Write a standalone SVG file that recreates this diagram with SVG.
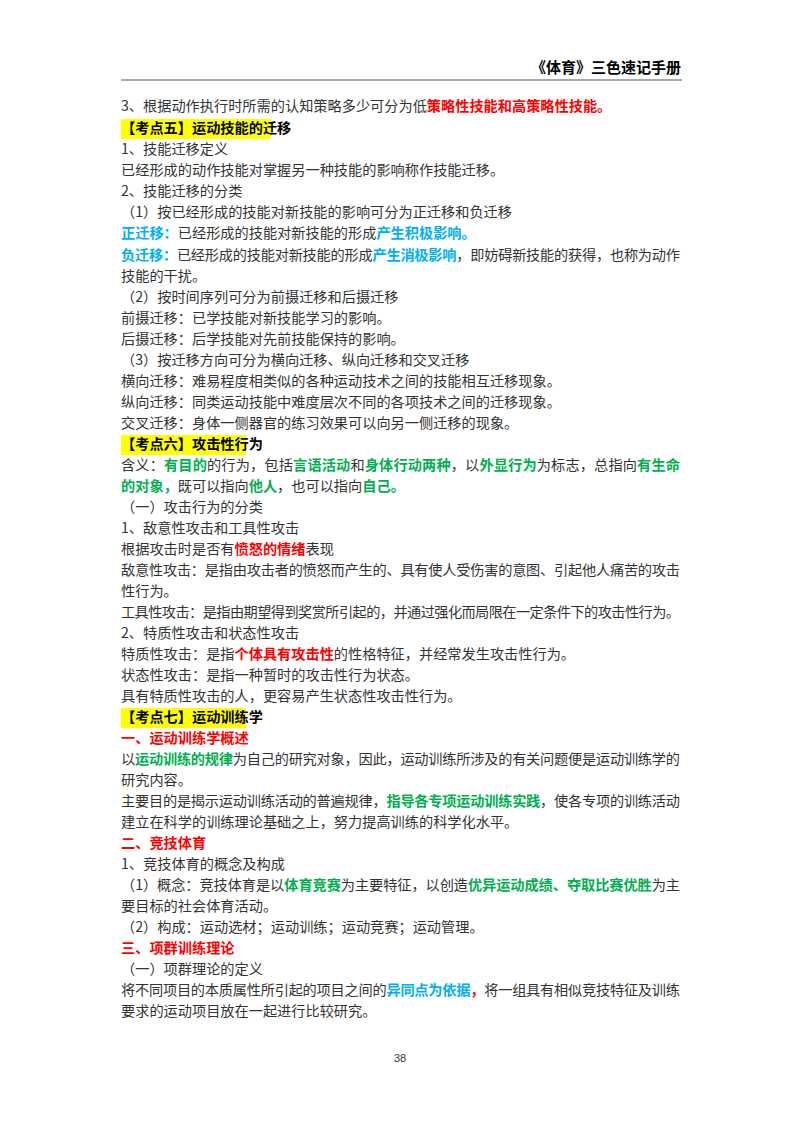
<svg xmlns="http://www.w3.org/2000/svg" width="800" height="1132" viewBox="0 0 800 1132">
<style>
text{font-family:"Noto Sans CJK SC","Noto Sans",sans-serif;font-size:14.2px;fill:#333}
.b{font-weight:bold}
.r{fill:#FF0000;font-weight:bold}
.u{fill:#00B0F0;font-weight:bold}
.g{fill:#00B050;font-weight:bold}
.k{fill:#000;font-weight:bold}
.hl{fill:#FFFF00}
</style>
<rect width="800" height="1132" fill="#fff"/>
<text x="681" y="73" text-anchor="end" class="k" style="font-size:15px">《体育》三色速记手册</text>
<line x1="121" y1="80" x2="682" y2="80" stroke="#555" stroke-width="1.2"/>
<rect class="hl" x="121" y="119" width="150" height="20"/>
<rect class="hl" x="121" y="435" width="125" height="20"/>
<rect class="hl" x="121" y="708" width="125" height="20"/>
<g>
<text x="121" y="111">3、根据动作执行时所需的认知策略多少可分为低<tspan class="r">策略性技能和高策略性技能。</tspan></text>
<text x="121" y="133" class="k">【考点五】运动技能的迁移</text>
<text x="121" y="154">1、技能迁移定义</text>
<text x="121" y="175">已经形成的动作技能对掌握另一种技能的影响称作技能迁移。</text>
<text x="121" y="196">2、技能迁移的分类</text>
<text x="121" y="217">（1）按已经形成的技能对新技能的影响可分为正迁移和负迁移</text>
<text x="121" y="238"><tspan class="u">正迁移：</tspan>已经形成的技能对新技能的形成<tspan class="u">产生积极影响。</tspan></text>
<text x="121" y="260" textLength="559" lengthAdjust="spacing"><tspan class="u">负迁移：</tspan>已经形成的技能对新技能的形成<tspan class="u">产生消极影响</tspan>，即妨碍新技能的获得，也称为动作</text>
<text x="121" y="281">技能的干扰。</text>
<text x="121" y="302">（2）按时间序列可分为前摄迁移和后摄迁移</text>
<text x="121" y="323">前摄迁移：已学技能对新技能学习的影响。</text>
<text x="121" y="344">后摄迁移：后学技能对先前技能保持的影响。</text>
<text x="121" y="365">（3）按迁移方向可分为横向迁移、纵向迁移和交叉迁移</text>
<text x="121" y="386">横向迁移：难易程度相类似的各种运动技术之间的技能相互迁移现象。</text>
<text x="121" y="407">纵向迁移：同类运动技能中难度层次不同的各项技术之间的迁移现象。</text>
<text x="121" y="428">交叉迁移：身体一侧器官的练习效果可以向另一侧迁移的现象。</text>
<text x="121" y="449" class="k">【考点六】攻击性行为</text>
<text x="121" y="470" textLength="559" lengthAdjust="spacing">含义：<tspan class="g">有目的</tspan>的行为，包括<tspan class="g">言语活动</tspan>和<tspan class="g">身体行动两种</tspan>，以<tspan class="g">外显行为</tspan>为标志，总指向<tspan class="g">有生命</tspan></text>
<text x="121" y="491"><tspan class="g">的对象，</tspan>既可以指向<tspan class="g">他人</tspan>，也可以指向<tspan class="g">自己。</tspan></text>
<text x="121" y="512">（一）攻击行为的分类</text>
<text x="121" y="533">1、敌意性攻击和工具性攻击</text>
<text x="121" y="554">根据攻击时是否有<tspan class="r">愤怒的情绪</tspan>表现</text>
<text x="121" y="575" textLength="559" lengthAdjust="spacing">敌意性攻击：是指由攻击者的愤怒而产生的、具有使人受伤害的意图、引起他人痛苦的攻击</text>
<text x="121" y="596">性行为。</text>
<text x="121" y="617" textLength="559" lengthAdjust="spacing">工具性攻击：是指由期望得到奖赏所引起的，并通过强化而局限在一定条件下的攻击性行为。</text>
<text x="121" y="638">2、特质性攻击和状态性攻击</text>
<text x="121" y="659">特质性攻击：是指<tspan class="r">个体具有攻击性</tspan>的性格特征，并经常发生攻击性行为。</text>
<text x="121" y="680">状态性攻击：是指一种暂时的攻击性行为状态。</text>
<text x="121" y="701">具有特质性攻击的人，更容易产生状态性攻击性行为。</text>
<text x="121" y="722" class="k">【考点七】运动训练学</text>
<text x="121" y="743" class="r">一、运动训练学概述</text>
<text x="121" y="764" textLength="559" lengthAdjust="spacing">以<tspan class="g">运动训练的规律</tspan>为自己的研究对象，因此，运动训练所涉及的有关问题便是运动训练学的</text>
<text x="121" y="785">研究内容。</text>
<text x="121" y="806" textLength="559" lengthAdjust="spacing">主要目的是揭示运动训练活动的普遍规律，<tspan class="g">指导各专项运动训练实践</tspan>，使各专项的训练活动</text>
<text x="121" y="827">建立在科学的训练理论基础之上，努力提高训练的科学化水平。</text>
<text x="121" y="848" class="r">二、竞技体育</text>
<text x="121" y="869">1、竞技体育的概念及构成</text>
<text x="121" y="890" textLength="559" lengthAdjust="spacing">（1）概念：竞技体育是以<tspan class="g">体育竞赛</tspan>为主要特征，以创造<tspan class="g">优异运动成绩、夺取比赛优胜</tspan>为主</text>
<text x="121" y="911">要目标的社会体育活动。</text>
<text x="121" y="932">（2）构成：运动选材；运动训练；运动竞赛；运动管理。</text>
<text x="121" y="953" class="r">三、项群训练理论</text>
<text x="121" y="974">（一）项群理论的定义</text>
<text x="121" y="995" textLength="559" lengthAdjust="spacing">将不同项目的本质属性所引起的项目之间的<tspan class="u">异同点为依据</tspan><tspan class="r">，</tspan>将一组具有相似竞技特征及训练</text>
<text x="121" y="1016">要求的运动项目放在一起进行比较研究。</text>
<text x="400" y="1062" text-anchor="middle" style="font-size:11px;font-family:'Liberation Sans',sans-serif">38</text>
</g>
</svg>
